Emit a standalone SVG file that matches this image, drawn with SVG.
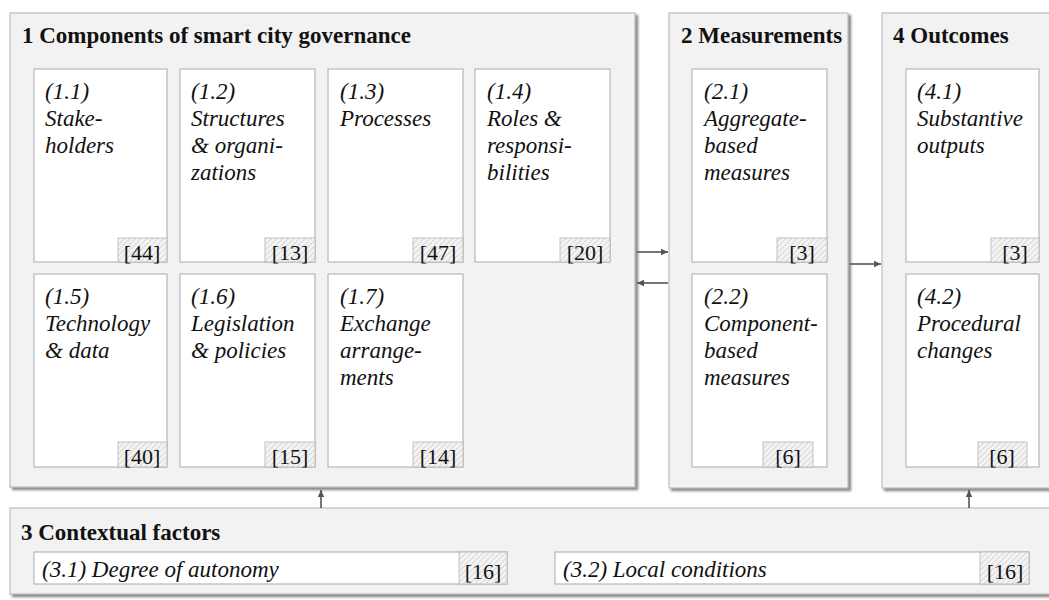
<svg xmlns="http://www.w3.org/2000/svg" width="1049" height="600" viewBox="0 0 1049 600">
  <defs>
    <style>
      .panel { fill: #f2f2f2; stroke: #bdbdbd; stroke-width: 1.2; filter: url(#shadow); }
      .card { fill: #ffffff; stroke: #a9a9a9; stroke-width: 1; }
      .badge { fill: url(#hatch); stroke: #b5b5b5; stroke-width: 0.8; }
      .title { font-family: 'Liberation Serif', 'DejaVu Serif', serif; font-weight: bold; font-size: 23px; fill: #111; }
      .label { font-family: 'Liberation Serif', 'DejaVu Serif', serif; font-style: italic; font-size: 23px; fill: #111; }
      .count { font-family: 'Liberation Serif', 'DejaVu Serif', serif; font-size: 22px; fill: #111; text-anchor: middle; }
      .conn { stroke: #555; stroke-width: 1.6; fill: none; marker-end: url(#head); }
    </style>
    <filter id="shadow" x="-5%" y="-5%" width="110%" height="110%">
      <feDropShadow dx="2.5" dy="2.5" stdDeviation="1.2" flood-color="#707070" flood-opacity="0.85"/>
    </filter>
    <pattern id="hatch" width="4" height="4" patternUnits="userSpaceOnUse" patternTransform="rotate(45)">
      <rect width="4" height="4" fill="#f4f4f4"/>
      <line x1="0" y1="0" x2="0" y2="4" stroke="#c4c4c4" stroke-width="1.2"/>
    </pattern>
    <marker id="head" markerWidth="8" markerHeight="8" refX="7" refY="4" orient="auto" markerUnits="userSpaceOnUse">
      <path d="M0,0.8 L7,4 L0,7.2 Z" fill="#555"/>
    </marker>
  </defs>

  <rect width="1049" height="600" fill="#ffffff"/>

  <!-- Panel 1: components -->
  <g id="panel-components">
    <rect class="panel" x="10" y="13" width="625" height="474"/>
    <text class="title" x="22" y="43">1 Components of smart city governance</text>
  </g>
  <g id="node-1-1">
    <rect class="card" x="34" y="69" width="133" height="193"/>
    <text class="label"><tspan x="45" y="99">(1.1)</tspan><tspan x="45" y="126">Stake-</tspan><tspan x="45" y="153">holders</tspan></text>
    <rect class="badge" x="118" y="238" width="49" height="24"/>
    <text class="count" x="142" y="260">[44]</text>
  </g>
  <g id="node-1-2">
    <rect class="card" x="180" y="69" width="135" height="193"/>
    <text class="label"><tspan x="191" y="99">(1.2)</tspan><tspan x="191" y="126">Structures</tspan><tspan x="191" y="153">&amp; organi-</tspan><tspan x="191" y="180">zations</tspan></text>
    <rect class="badge" x="265" y="238" width="50" height="24"/>
    <text class="count" x="290" y="260">[13]</text>
  </g>
  <g id="node-1-3">
    <rect class="card" x="328" y="69" width="135" height="193"/>
    <text class="label"><tspan x="340" y="99">(1.3)</tspan><tspan x="340" y="126">Processes</tspan></text>
    <rect class="badge" x="413" y="238" width="50" height="24"/>
    <text class="count" x="438" y="260">[47]</text>
  </g>
  <g id="node-1-4">
    <rect class="card" x="475" y="69" width="135" height="193"/>
    <text class="label"><tspan x="487" y="99">(1.4)</tspan><tspan x="487" y="126">Roles &amp;</tspan><tspan x="487" y="153">responsi-</tspan><tspan x="487" y="180">bilities</tspan></text>
    <rect class="badge" x="560" y="238" width="50" height="24"/>
    <text class="count" x="585" y="260">[20]</text>
  </g>
  <g id="node-1-5">
    <rect class="card" x="34" y="274" width="133" height="193"/>
    <text class="label"><tspan x="45" y="304">(1.5)</tspan><tspan x="45" y="331">Technology</tspan><tspan x="45" y="358">&amp; data</tspan></text>
    <rect class="badge" x="118" y="442" width="49" height="25"/>
    <text class="count" x="142" y="464">[40]</text>
  </g>
  <g id="node-1-6">
    <rect class="card" x="180" y="274" width="135" height="193"/>
    <text class="label"><tspan x="191" y="304">(1.6)</tspan><tspan x="191" y="331">Legislation</tspan><tspan x="191" y="358">&amp; policies</tspan></text>
    <rect class="badge" x="265" y="442" width="50" height="25"/>
    <text class="count" x="290" y="464">[15]</text>
  </g>
  <g id="node-1-7">
    <rect class="card" x="328" y="274" width="135" height="193"/>
    <text class="label"><tspan x="340" y="304">(1.7)</tspan><tspan x="340" y="331">Exchange</tspan><tspan x="340" y="358">arrange-</tspan><tspan x="340" y="385">ments</tspan></text>
    <rect class="badge" x="413" y="442" width="50" height="25"/>
    <text class="count" x="438" y="464">[14]</text>
  </g>

  <!-- Panel 2: measurements -->
  <g id="panel-measurements">
    <rect class="panel" x="669" y="13" width="179" height="475"/>
    <text class="title" x="681" y="43">2 Measurements</text>
  </g>
  <g id="node-2-1">
    <rect class="card" x="692" y="69" width="135" height="193"/>
    <text class="label"><tspan x="704" y="99">(2.1)</tspan><tspan x="704" y="126">Aggregate-</tspan><tspan x="704" y="153">based</tspan><tspan x="704" y="180">measures</tspan></text>
    <rect class="badge" x="777" y="238" width="50" height="24"/>
    <text class="count" x="802" y="260">[3]</text>
  </g>
  <g id="node-2-2">
    <rect class="card" x="692" y="274" width="135" height="193"/>
    <text class="label"><tspan x="704" y="304">(2.2)</tspan><tspan x="704" y="331">Component-</tspan><tspan x="704" y="358">based</tspan><tspan x="704" y="385">measures</tspan></text>
    <rect class="badge" x="763" y="442" width="50" height="25"/>
    <text class="count" x="788" y="464">[6]</text>
  </g>

  <!-- Panel 4: outcomes -->
  <g id="panel-outcomes">
    <rect class="panel" x="882" y="13" width="180" height="475"/>
    <text class="title" x="893" y="43">4 Outcomes</text>
  </g>
  <g id="node-4-1">
    <rect class="card" x="906" y="69" width="133" height="193"/>
    <text class="label"><tspan x="917" y="99">(4.1)</tspan><tspan x="917" y="126">Substantive</tspan><tspan x="917" y="153">outputs</tspan></text>
    <rect class="badge" x="991" y="238" width="48" height="24"/>
    <text class="count" x="1015" y="260">[3]</text>
  </g>
  <g id="node-4-2">
    <rect class="card" x="906" y="274" width="133" height="193"/>
    <text class="label"><tspan x="917" y="304">(4.2)</tspan><tspan x="917" y="331">Procedural</tspan><tspan x="917" y="358">changes</tspan></text>
    <rect class="badge" x="978" y="442" width="49" height="25"/>
    <text class="count" x="1002" y="464">[6]</text>
  </g>

  <!-- Panel 3: contextual factors -->
  <g id="panel-context">
    <rect class="panel" x="10" y="508" width="1052" height="86"/>
    <text class="title" x="21" y="540">3 Contextual factors</text>
  </g>
  <g id="node-3-1">
    <rect class="card" x="34" y="552" width="473" height="32"/>
    <text class="label" x="42" y="577">(3.1) Degree of autonomy</text>
    <rect class="badge" x="459" y="552" width="48" height="32"/>
    <text class="count" x="483" y="579">[16]</text>
  </g>
  <g id="node-3-2">
    <rect class="card" x="555" y="552" width="474" height="32"/>
    <text class="label" x="563" y="577">(3.2) Local conditions</text>
    <rect class="badge" x="980" y="552" width="49" height="32"/>
    <text class="count" x="1005" y="579">[16]</text>
  </g>

  <!-- Connectors -->
  <g id="connectors">
    <line class="conn" x1="637" y1="252" x2="668" y2="252"/>
    <line class="conn" x1="668" y1="283" x2="637" y2="283"/>
    <line class="conn" x1="850" y1="264" x2="881" y2="264"/>
    <line class="conn" x1="321" y1="508" x2="321" y2="490"/>
    <line class="conn" x1="969" y1="508" x2="969" y2="490"/>
  </g>
</svg>
